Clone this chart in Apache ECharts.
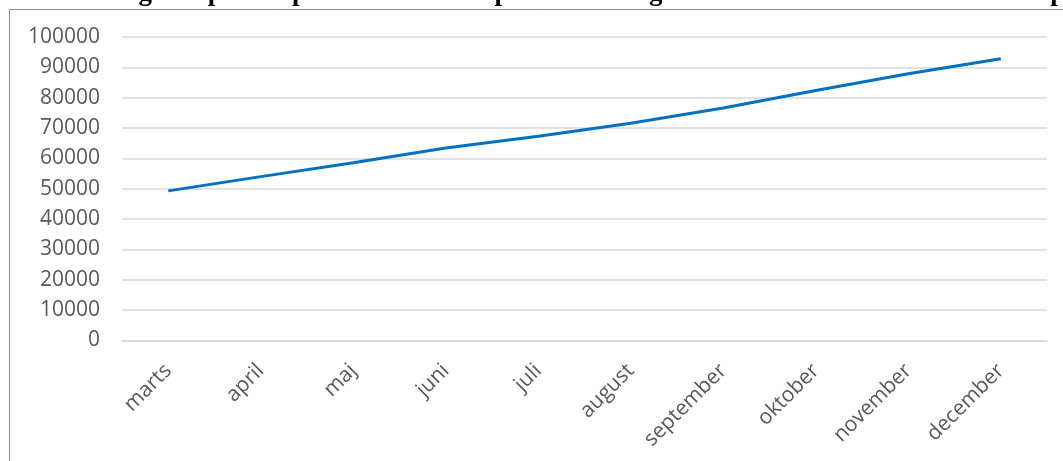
<!DOCTYPE html>
<html>
<head>
<meta charset="utf-8">
<script src="https://cdn.jsdelivr.net/npm/echarts@6/dist/echarts.min.js"></script>
<style>
  html, body { margin: 0; padding: 0; background: #fff; }
  #chart { width: 1063px; height: 461px; }
</style>
</head>
<body>
<div id="chart"></div>
<script>
// data
const titleText = 'Graf 2: Brugere oprettet på Min Sundhedsplatform i Region Hovedstaden marts 2018 til september 2019'
const months = ['marts', 'april', 'maj', 'juni', 'juli', 'august', 'september', 'oktober', 'november', 'december']
const users = [49300, 54000, 58600, 63400, 67300, 71600, 76600, 82400, 87900, 92800]

const chart = echarts.init(document.getElementById('chart'))

const option = {
  backgroundColor: '#fff',
  animation: false,
  graphic: [
    {
      // chart frame, cut off at right and bottom
      type: 'rect',
      shape: { x: 9.5, y: 9.5, width: 1200, height: 600 },
      style: { fill: 'none', stroke: '#8c8c8c', lineWidth: 1 }
    },
    {
      type: 'text',
      left: 2,
      top: -20,
      style: {
        text: titleText,
        font: 'bold 27px "Liberation Serif", serif',
        fill: '#000'
      }
    }
  ],
  grid: {
    left: 122,
    right: 16,
    top: 37,
    bottom: 120.5,
    outerBoundsMode: 'none'
  },
  xAxis: {
    type: 'category',
    data: months,
    boundaryGap: true,
    axisLine: { show: true, lineStyle: { color: '#d9d9d9', width: 1.5 } },
    axisTick: { show: false },
    axisLabel: {
      rotate: 45,
      margin: 27,
      color: '#595959',
      fontFamily: '"Open Sans", sans-serif',
      fontSize: 21
    }
  },
  yAxis: {
    type: 'value',
    min: 0,
    max: 100000,
    interval: 10000,
    axisLine: { show: false },
    axisTick: { show: false },
    axisLabel: {
      margin: 22,
      color: '#595959',
      fontFamily: '"Open Sans", sans-serif',
      fontSize: 21,
      formatter: (v) => String(v)
    },
    splitLine: { lineStyle: { color: '#d9d9d9', width: 1.5 } }
  },
  series: [
    {
      type: 'line',
      data: users,
      showSymbol: false,
      smooth: false,
      lineStyle: { color: '#0070c0', width: 3 }
    }
  ]
}

chart.setOption(option)
</script>
</body>
</html>
